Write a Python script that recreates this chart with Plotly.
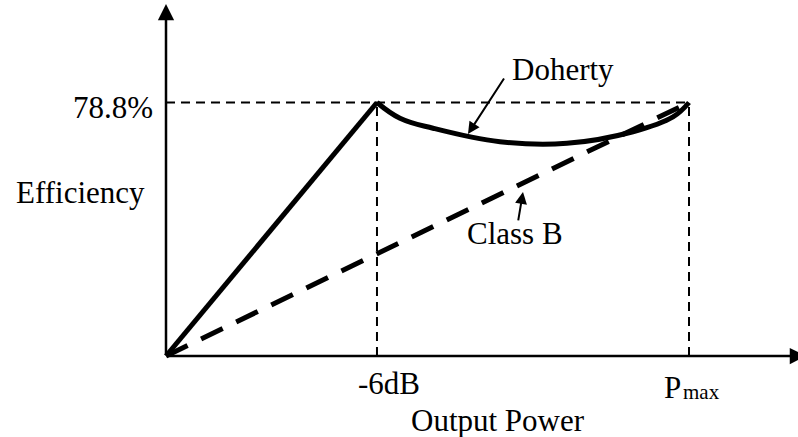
import plotly.graph_objects as go

# Efficiency vs output power: Doherty amplifier compared with Class B
PEAK_EFF = 78.8                      # peak efficiency, %
tick_pos = [0.4034, 1.0]             # normalised output power of the marked points
tick_text = ["-6dB", "P"]            # -6 dB back-off and P_max

# Doherty: linear rise up to the -6 dB back-off point
doherty_rise_x = [0.0, 0.4034]
doherty_rise_y = [0.0, 78.8]
# Doherty: load-modulation region between -6 dB and P_max
doherty_curve_x = [0.4034, 0.4474, 0.5105, 0.6386, 0.7667, 0.8929, 0.9694, 1.0]
doherty_curve_y = [78.8, 73.9, 70.8, 66.6, 66.1, 69.7, 74.3, 78.8]
# Class B: efficiency grows linearly up to P_max
classb_x = [0.0, 1.0]
classb_y = [0.0, 78.8]

W, H = 798, 437
FONT = "Liberation Serif, Times New Roman, serif"
FS = 31


def px(x):
    return x / W


def py(y):
    return 1 - y / H


fig = go.Figure()

fig.add_trace(go.Scatter(x=classb_x, y=classb_y, mode="lines",
                         line=dict(color="black", width=5, dash="24px,15px"),
                         hoverinfo="skip"))
fig.add_trace(go.Scatter(x=doherty_rise_x, y=doherty_rise_y, mode="lines",
                         line=dict(color="black", width=5), hoverinfo="skip"))
fig.add_trace(go.Scatter(x=doherty_curve_x, y=doherty_curve_y, mode="lines",
                         line=dict(color="black", width=5, shape="spline", smoothing=1.1),
                         hoverinfo="skip"))

# thin dashed guides at the peak efficiency and the two power levels
guide = dict(color="black", width=2, dash="9px,6px")
fig.add_shape(type="line", xref="x", yref="y", x0=0, x1=tick_pos[1],
              y0=PEAK_EFF, y1=PEAK_EFF, line=guide)
for xv in tick_pos:
    fig.add_shape(type="line", xref="x", yref="y", x0=xv, x1=xv,
                  y0=0, y1=PEAK_EFF, line=guide)

ann = []
# axes with arrow heads
ann.append(dict(x=0, y=109.4, ax=0, ay=0, xref="x", yref="y", axref="x", ayref="y",
                text="", showarrow=True, arrowhead=2, arrowwidth=2.5, arrowsize=1.3,
                arrowcolor="black", standoff=0))
ann.append(dict(x=1.2237, y=0, ax=-0.001, ay=0, xref="x", yref="y", axref="x", ayref="y",
                text="", showarrow=True, arrowhead=2, arrowwidth=2.5, arrowsize=1.3,
                arrowcolor="black", standoff=0))

txt = dict(family=FONT, size=FS, color="black")
# axis titles and tick labels
ann.append(dict(x=px(155), y=PEAK_EFF, xref="paper", yref="y", text="78.8%",
                xanchor="right", yanchor="middle", yshift=-5, showarrow=False, font=txt))
ann.append(dict(x=px(80), y=py(192.5), xref="paper", yref="paper", text="Efficiency",
                xanchor="center", yanchor="middle", showarrow=False, font=txt))
ann.append(dict(x=tick_pos[0], y=py(383), xref="x", yref="paper", text=tick_text[0],
                xanchor="center", yanchor="middle", xshift=12, showarrow=False, font=txt))
ann.append(dict(x=tick_pos[1], y=py(387.5), xref="x", yref="paper", text=tick_text[1],
                xanchor="right", yanchor="middle", xshift=-6, showarrow=False, font=txt))
ann.append(dict(x=tick_pos[1], y=py(392), xref="x", yref="paper", text="max",
                xanchor="left", yanchor="middle", xshift=-8, showarrow=False,
                font=dict(family=FONT, size=21, color="black")))
ann.append(dict(x=px(497.5), y=py(420), xref="paper", yref="paper", text="Output Power",
                xanchor="center", yanchor="middle", showarrow=False, font=txt))

# series labels with pointer arrows
ann.append(dict(x=px(562.5), y=py(69), xref="paper", yref="paper", text="Doherty",
                xanchor="center", yanchor="middle", showarrow=False, font=txt))
ann.append(dict(x=0.5774, y=69.0, ax=37, ay=-57, xref="x", yref="y",
                text="", showarrow=True, arrowhead=2, arrowwidth=2, arrowsize=1.2,
                arrowcolor="black", standoff=0))
ann.append(dict(x=px(515), y=py(233.5), xref="paper", yref="paper", text="Class B",
                xanchor="center", yanchor="middle", showarrow=False, font=txt))
ann.append(dict(x=0.6826, y=51.0, ax=-5, ay=30, xref="x", yref="y",
                text="", showarrow=True, arrowhead=2, arrowwidth=2, arrowsize=1.2,
                arrowcolor="black", standoff=0))

fig.update_layout(
    width=W, height=H,
    margin=dict(l=0, r=0, t=0, b=0),
    paper_bgcolor="white", plot_bgcolor="white",
    showlegend=False,
    xaxis=dict(range=[-166 / 523, (W - 166) / 523], visible=False, fixedrange=True),
    yaxis=dict(range=[-25.18, 110.66], visible=False, fixedrange=True),
    annotations=ann,
)

fig.write_html("out.html", config={"displayModeBar": False})
